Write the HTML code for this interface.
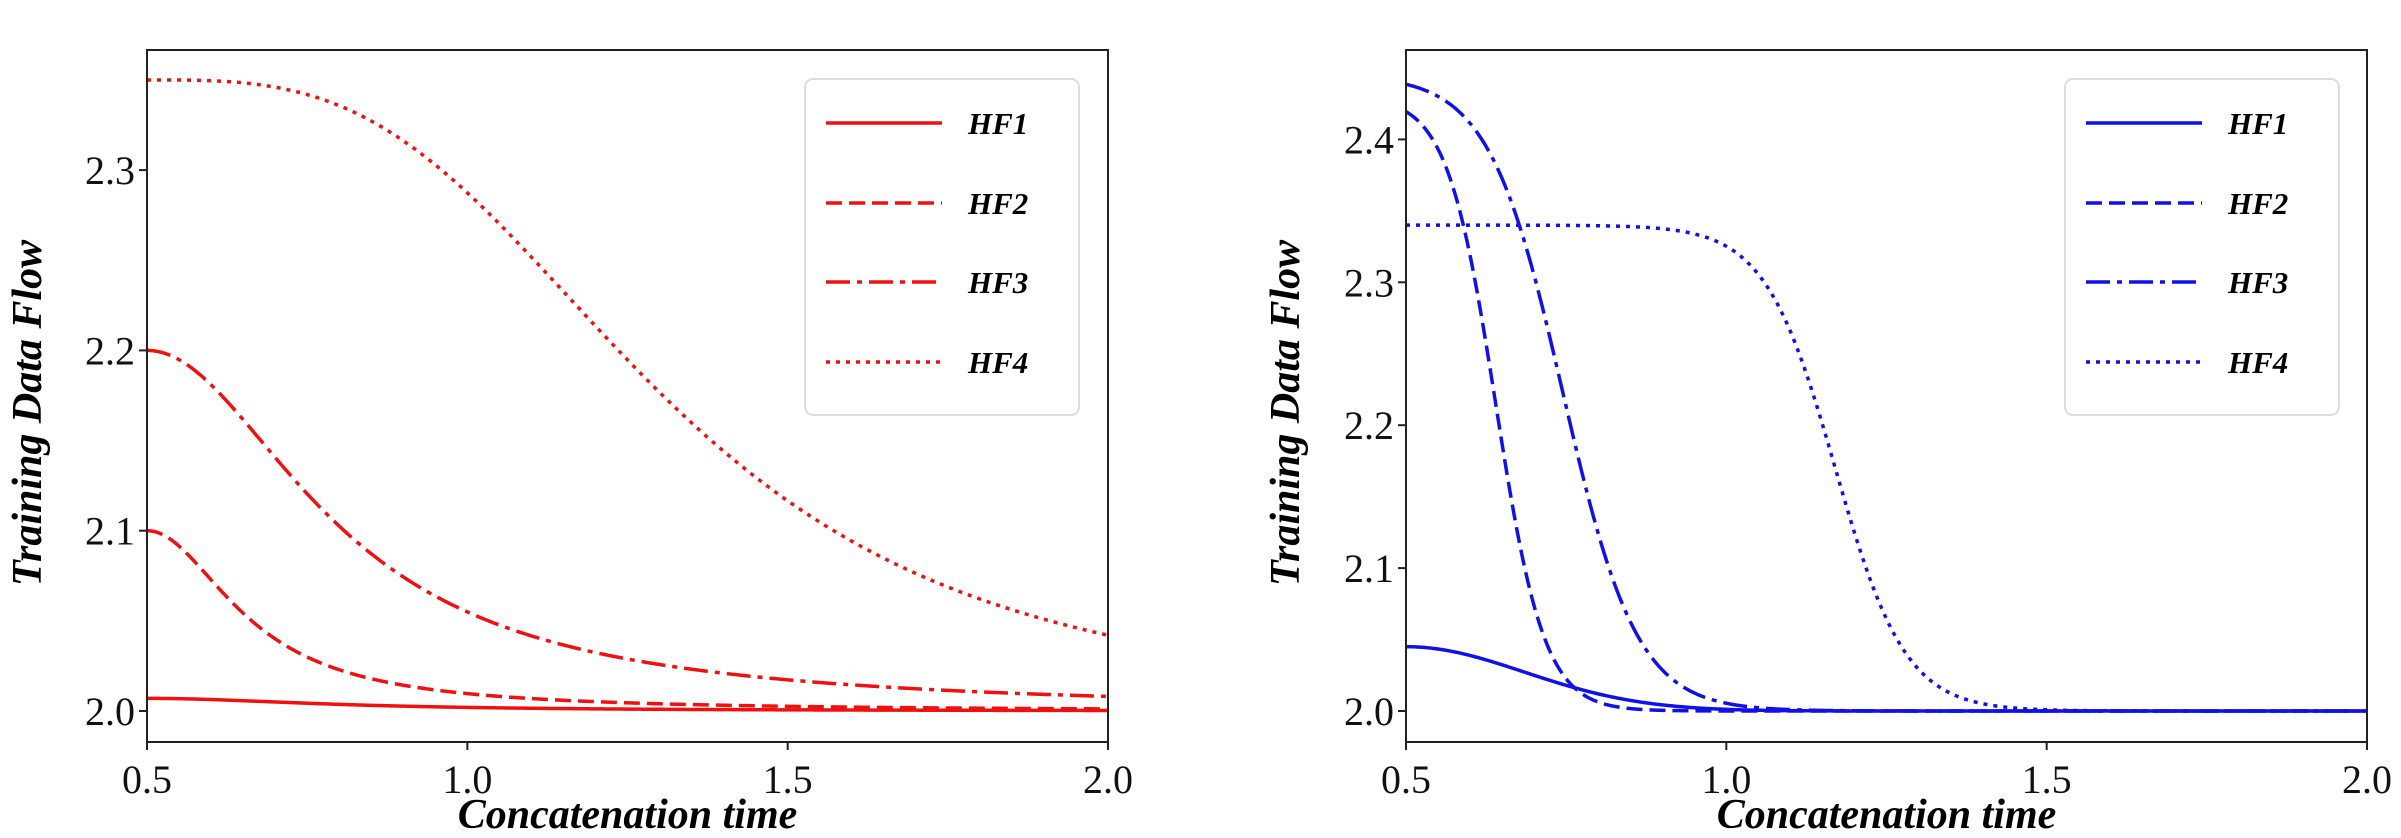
<!DOCTYPE html>
<html><head><meta charset="utf-8"><style>
html,body{margin:0;padding:0;background:#fff;}
svg{display:block;}
text{font-family:"Liberation Serif",serif;}
.tk{font-size:40px;fill:#111;}
.lab{font-size:42px;font-weight:bold;font-style:italic;fill:#000;}
.lg{font-size:31px;font-weight:bold;font-style:italic;fill:#000;}
</style></head><body>
<svg id="s" width="2401" height="838" viewBox="0 0 2401 838" xmlns="http://www.w3.org/2000/svg">
<rect width="2401" height="838" fill="#fff"/>
<g id="g"></g>
</svg>
<script>
var NS="http://www.w3.org/2000/svg",g=document.getElementById('g');
function el(t,a,txt){var e=document.createElementNS(NS,t);for(var k in a)e.setAttribute(k,a[k]);if(txt!==undefined)e.textContent=txt;g.appendChild(e);return e;}
var dashes=[null,"16,7","24,7,5,7","4,6"];
function panel(L,R,T,B,y0,ppu,yt,col,fns,lx,lyLabel){
  var X=function(x){return L+(x-0.5)/1.5*(R-L);};
  var Y=function(v){return y0-(v-2)*10*ppu;};
  for(var i=0;i<fns.length;i++){
    var d="";for(var k=0;k<=600;k++){var x=0.5+1.5*k/600;d+=(k?"L":"M")+X(x).toFixed(2)+","+Y(fns[i](x)).toFixed(2);}
    var a={d:d,fill:"none",stroke:col,"stroke-width":3.5};if(dashes[i])a["stroke-dasharray"]=dashes[i];
    el("path",a);
  }
  el("rect",{x:L,y:T,width:R-L,height:B-T,fill:"none",stroke:"#222","stroke-width":2});
  [0.5,1,1.5,2].forEach(function(x){var px=X(x);el("line",{x1:px,y1:B,x2:px,y2:B+8,stroke:"#222","stroke-width":2});
    el("text",{x:px,y:793,"text-anchor":"middle",class:"tk"},x.toFixed(1));});
  yt.forEach(function(v){var py=Y(v);el("line",{x1:L-8,y1:py,x2:L,y2:py,stroke:"#222","stroke-width":2});
    el("text",{x:L-12,y:py+14,"text-anchor":"end",class:"tk"},v.toFixed(1));});
  el("text",{x:(L+R)/2,y:828,"text-anchor":"middle",class:"lab"},"Concatenation time");
  el("text",{x:0,y:0,"text-anchor":"middle",class:"lab",transform:"translate("+lyLabel+",413) rotate(-90)"},"Training Data Flow");
  el("rect",{x:lx,y:79,width:274,height:336,rx:8,fill:"#fff",stroke:"#ddd","stroke-width":2});
  var rows=[123,203,282,362];
  for(var i=0;i<4;i++){var a={x1:lx+21,x2:lx+137,y1:rows[i],y2:rows[i],stroke:col,"stroke-width":3.5};if(dashes[i])a["stroke-dasharray"]=dashes[i];el("line",a);
    el("text",{x:lx+163,y:rows[i]+11,class:"lg"},"HF"+(i+1));}
}
function rat(a,s2){return function(x){var d=x-0.5;return 2+a/(1+d*d/s2);};}
panel(147,1108,50,742,711,180.3,[2.0,2.1,2.2,2.3],"#f01010",[
  rat(0.007,0.1),rat(0.1,0.0267),rat(0.2,0.0947),
  function(x){var d=(x-0.5)/0.805;return 2+0.35/(1+Math.pow(d,3.2));}
],805,41);
function logi(a,c,w){return function(x){return 2+a/(1+Math.exp((x-c)/w));};}
panel(1406,2367,50,742,711,142.9,[2.0,2.1,2.2,2.3,2.4],"#1010e8",[
  function(x){var d=x-0.5;return 2+0.045*Math.exp(-d*d/0.068);},
  logi(0.43,0.64,0.038),logi(0.445,0.745,0.058),logi(0.34,1.17,0.055)
],2065,1299);
</script>
</body></html>
